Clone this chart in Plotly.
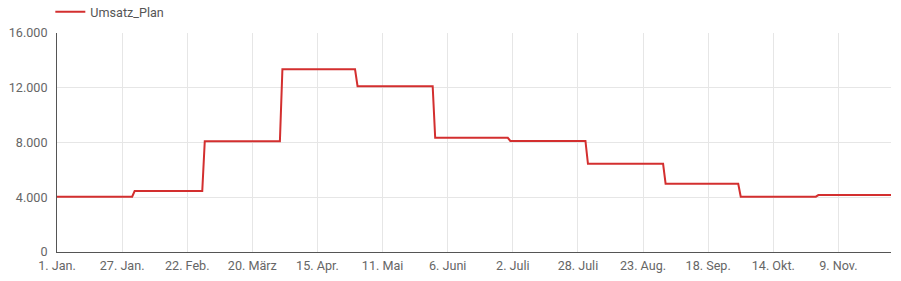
import pandas as pd
import plotly.graph_objects as go

# Monthly plan values (each month's value holds for every day of that month)
month_starts = ["2019-01-01", "2019-02-01", "2019-03-01", "2019-04-01", "2019-05-01", "2019-06-01",
                "2019-07-01", "2019-08-01", "2019-09-01", "2019-10-01", "2019-11-01"]
umsatz_plan = [4040, 4450, 8100, 13350, 12110, 8340, 8110, 6440, 4990, 4040, 4160]
end_date = "2019-11-30"

tick_dates = ["2019-01-01", "2019-01-27", "2019-02-22", "2019-03-20", "2019-04-15", "2019-05-11",
              "2019-06-06", "2019-07-02", "2019-07-28", "2019-08-23", "2019-09-18", "2019-10-14",
              "2019-11-09"]
tick_labels = ["1. Jan.", "27. Jan.", "22. Feb.", "20. März", "15. Apr.", "11. Mai", "6. Juni",
               "2. Juli", "28. Juli", "23. Aug.", "18. Sep.", "14. Okt.", "9. Nov."]
y_ticks = [0, 4000, 8000, 12000, 16000]
y_labels = ["0", "4.000", "8.000", "12.000", "16.000"]

# Expand monthly values to daily points
days = pd.date_range("2019-01-01", end_date, freq="D")
monthly = pd.Series(umsatz_plan, index=pd.to_datetime(month_starts))
daily = monthly.reindex(days, method="ffill")

fig = go.Figure()
fig.add_trace(go.Scatter(
    x=daily.index, y=daily.values, mode="lines", name="Umsatz_Plan",
    line=dict(color="#d32f2f", width=2),
))

font = "Roboto, Arial, sans-serif"
fs = 12.6
fig.update_layout(
    width=901, height=281,
    margin=dict(l=57, r=10, t=33, b=29, autoexpand=False),
    paper_bgcolor="white", plot_bgcolor="white",
    font=dict(family=font, size=fs, color="#666666"),
    showlegend=True,
    legend=dict(orientation="h", x=-0.008, y=1.096, xanchor="left", yanchor="middle",
                font=dict(family=font, size=fs, color="#555555"),
                bgcolor="rgba(0,0,0,0)", itemwidth=30),
    xaxis=dict(
        range=[pd.Timestamp("2019-01-01"), pd.Timestamp(end_date)],
        tickvals=pd.to_datetime(tick_dates), ticktext=tick_labels,
        showgrid=True, gridcolor="#e6e6e6", gridwidth=1,
        showline=True, linecolor="#555555", linewidth=1,
        ticks="", zeroline=False, ticklabelstandoff=2,
        tickfont=dict(family=font, size=fs, color="#666666"),
    ),
    yaxis=dict(
        range=[0, 16000],
        tickvals=y_ticks, ticktext=y_labels,
        showgrid=True, gridcolor="#e6e6e6", gridwidth=1,
        showline=True, linecolor="#555555", linewidth=1,
        ticks="", zeroline=False, ticklabelstandoff=6,
        tickfont=dict(family=font, size=fs, color="#666666"),
    ),
)

fig.write_html("out.html")
